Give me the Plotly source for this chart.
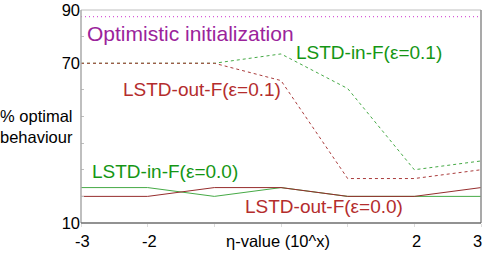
import plotly.graph_objects as go

eta_exp = [-3, -2, -1, 0, 1, 2, 3]
in_eps01 = [70, 70, 70, 73.5, 60.5, 30, 33.3]
out_eps01 = [70, 70, 70, 63.5, 26.7, 26.7, 30]
in_eps00 = [23.3, 23.3, 20, 23.3, 20, 20, 20]
out_eps00 = [20, 20, 23.3, 23.3, 20, 20, 23.3]
optimistic = [87.5] * 7

x_tick_vals = [-3, -2, -1, 0, 1, 2, 3]
x_tick_labels = [(-3, "-3", 1), (-2, "-2", 2), (2, "2", 2), (3, "3", -4)]
y_tick_vals = [10, 70, 90]
y_tick_text = ["10", "70", "90"]
y_minor = [20, 30, 40, 50, 60, 80]

GREEN_L = "rgb(70,170,70)"
RED_L = "rgb(170,60,60)"
RED_S = "rgb(150,45,45)"
PURP_L = "rgb(215,90,215)"
GREEN_T = "rgb(20,150,20)"
RED_T = "rgb(180,45,45)"
PURP_T = "rgb(155,35,155)"
FONT = "Liberation Sans, Arial, sans-serif"
AX = 16.5
LB = 19

fig = go.Figure()
fig.add_trace(go.Scatter(x=eta_exp, y=optimistic, mode="lines",
                         line=dict(color=PURP_L, width=1.2, dash="1px,3px")))
fig.add_trace(go.Scatter(x=eta_exp, y=in_eps01, mode="lines",
                         line=dict(color=GREEN_L, width=1, dash="3px,3px")))
fig.add_trace(go.Scatter(x=eta_exp, y=out_eps01, mode="lines",
                         line=dict(color=RED_L, width=1, dash="3px,3px")))
fig.add_trace(go.Scatter(x=eta_exp, y=in_eps00, mode="lines",
                         line=dict(color=GREEN_L, width=1)))
fig.add_trace(go.Scatter(x=eta_exp, y=out_eps00, mode="lines",
                         line=dict(color=RED_S, width=1)))

labels = [
    ("Optimistic initialization", -2.94, 81.3, PURP_T, 21),
    ("LSTD-in-F(ε=0.1)", 0.2, 74.0, GREEN_T, LB),
    ("LSTD-out-F(ε=0.1)", -2.4, 60.0, RED_T, LB),
    ("LSTD-in-F(ε=0.0)", -2.87, 29.3, GREEN_T, LB),
    ("LSTD-out-F(ε=0.0)", -0.57, 16.2, RED_T, LB),
]
for txt, x, y, c, s in labels:
    fig.add_annotation(x=x, y=y, text=txt, showarrow=False, xanchor="left",
                       yanchor="middle", font=dict(color=c, size=s, family=FONT))

for xv, t, sh in x_tick_labels:
    fig.add_annotation(x=xv, y=-0.085, xref="x", yref="paper", text=t,
                       showarrow=False, xanchor="center", yanchor="middle", xshift=sh,
                       font=dict(size=AX, color="black", family=FONT))

fig.add_annotation(x=-0.05, y=-0.085, xref="x", yref="paper", text="η-value (10^x)",
                   showarrow=False, xanchor="center", yanchor="middle",
                   font=dict(size=AX, color="black", family=FONT))
fig.add_annotation(x=-0.015, y=0.455, xref="paper", yref="paper",
                   text="% optimal<br>behaviour", showarrow=False, xanchor="right",
                   yanchor="middle", align="right",
                   font=dict(size=AX, color="black", family=FONT))

# frame
fig.add_shape(type="line", xref="paper", yref="paper", x0=0, x1=1, y0=1, y1=1,
              line=dict(color="rgb(190,190,190)", width=1))
fig.add_shape(type="line", xref="paper", yref="paper", x0=1, x1=1, y0=0, y1=1,
              line=dict(color="rgb(140,140,140)", width=1.5))
fig.add_shape(type="line", xref="paper", yref="paper", x0=0, x1=0, y0=0, y1=1,
              line=dict(color="rgb(170,170,170)", width=1.5))
fig.add_shape(type="line", xref="paper", yref="paper", x0=0, x1=1, y0=0, y1=0,
              line=dict(color="rgb(110,110,110)", width=1.5))

fig.update_xaxes(range=[-3, 3], tickvals=x_tick_vals, showticklabels=False,
                 ticks="outside", ticklen=3, tickcolor="rgb(220,220,220)",
                 showgrid=False, zeroline=False, showline=False, automargin=False)
fig.update_yaxes(range=[10, 90], tickvals=y_tick_vals, ticktext=y_tick_text,
                 ticks="", showgrid=False, zeroline=False, showline=False,
                 automargin=False,
                 minor=dict(tickvals=y_minor, ticks="inside", ticklen=3,
                            tickcolor="rgb(190,190,190)", showgrid=False),
                 tickfont=dict(size=AX, color="black", family=FONT))

fig.update_layout(width=498, height=261, showlegend=False,
                  margin=dict(l=81, r=17, t=10, b=38, autoexpand=False),
                  plot_bgcolor="white", paper_bgcolor="white",
                  font=dict(family=FONT))

fig.write_html("out.html", config={"displayModeBar": False})
with open("out.html", encoding="utf-8") as f:
    html = f.read()
html = html.replace("<head>", "<head><style>html,body{margin:0;padding:0;overflow:hidden;}</style>", 1)
with open("out.html", "w", encoding="utf-8") as f:
    f.write(html)
